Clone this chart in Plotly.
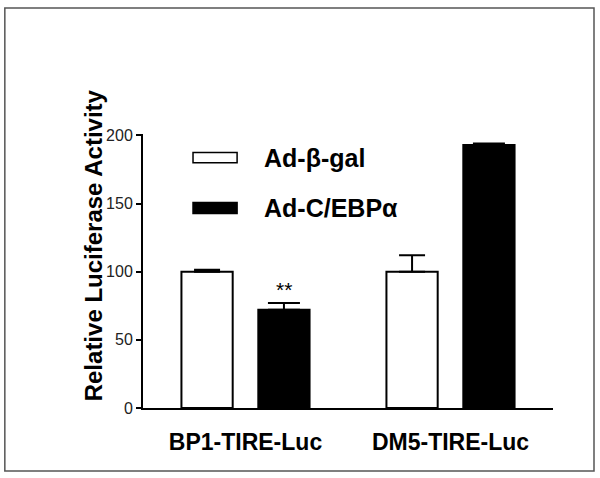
import plotly.graph_objects as go

categories = ["BP1-TIRE-Luc", "DM5-TIRE-Luc"]
series_names = ["Ad-β-gal", "Ad-C/EBPα"]
beta_gal = [100, 100]
beta_gal_err = [1.5, 12]
cebp = [72, 193]
cebp_err = [5, 1]
zero_err = [0, 0]
y_ticks = [0, 50, 100, 150, 200]
sig_label = "**"

fig = go.Figure()

fig.add_trace(go.Bar(
    x=categories, y=beta_gal, name=series_names[0],
    marker=dict(color="white", line=dict(color="black", width=2)),
    error_y=dict(type="data", symmetric=False, array=beta_gal_err, arrayminus=zero_err,
                 color="black", thickness=2, width=13),
))
fig.add_trace(go.Bar(
    x=categories, y=cebp, name=series_names[1],
    marker=dict(color="black", line=dict(color="black", width=2)),
    error_y=dict(type="data", symmetric=False, array=cebp_err, arrayminus=zero_err,
                 color="black", thickness=2, width=16),
))

font = "Liberation Sans, Arial, sans-serif"

fig.update_layout(
    width=600, height=478,
    margin=dict(l=143, r=47, t=134, b=70, autoexpand=False),
    paper_bgcolor="white", plot_bgcolor="white",
    barmode="group", bargap=0.25, bargroupgap=1/3,
    showlegend=False,
    font=dict(family=font, color="black"),
)

fig.update_xaxes(
    range=[-0.5, 1.5], showline=True, linecolor="black", linewidth=2,
    ticks="", showgrid=False, zeroline=False, automargin=False,
    tickfont=dict(size=23, family=font, weight="bold", color="black"),
    ticklabelstandoff=12,
)
fig.update_yaxes(
    range=[0, 201], tickvals=y_ticks, showline=True, linecolor="black", linewidth=2,
    ticks="outside", ticklen=5, tickwidth=1.5, tickcolor="black",
    showgrid=False, zeroline=False, automargin=False,
    tickfont=dict(size=16, color="#222"), ticklabelstandoff=0,
)

# y-axis title
fig.add_annotation(
    text="<b>Relative Luciferase Activity</b>", textangle=-90,
    xref="paper", yref="paper", x=-0.12, y=0.593, xanchor="center", yanchor="middle",
    showarrow=False, font=dict(size=24, family=font),
)

# significance mark over the C/EBPa bar of BP1
fig.add_annotation(
    text=sig_label, x=0.1875, y=cebp[0] + cebp_err[0], yanchor="bottom", yshift=0,
    showarrow=False, font=dict(size=21, family=font),
)

# custom legend with wide boxes
legend_fill = ["white", "black"]
legend_box_y = [(180, 187.5), (142.6, 150.7)]
for i, name in enumerate(series_names):
    lo, hi = legend_box_y[i]
    fig.add_shape(type="rect", xref="x", yref="y",
                  x0=-0.256, x1=-0.041, y0=lo, y1=hi,
                  fillcolor=legend_fill[i], line=dict(color="black", width=1.5))
    fig.add_annotation(text="<b>" + name + "</b>", xref="x", yref="y",
                       x=0.08, y=(lo + hi) / 2, xanchor="left", yanchor="middle",
                       showarrow=False, font=dict(size=25, family=font))

# outer frame
fig.add_shape(type="rect", xref="paper", yref="paper",
              x0=-0.337, x1=1.1, y0=-0.23, y1=1.46,
              line=dict(color="#555", width=1.5), fillcolor="rgba(0,0,0,0)", layer="below")

fig.write_html("out.html", config={"displayModeBar": False},
               post_script="document.body.style.margin='0';")
